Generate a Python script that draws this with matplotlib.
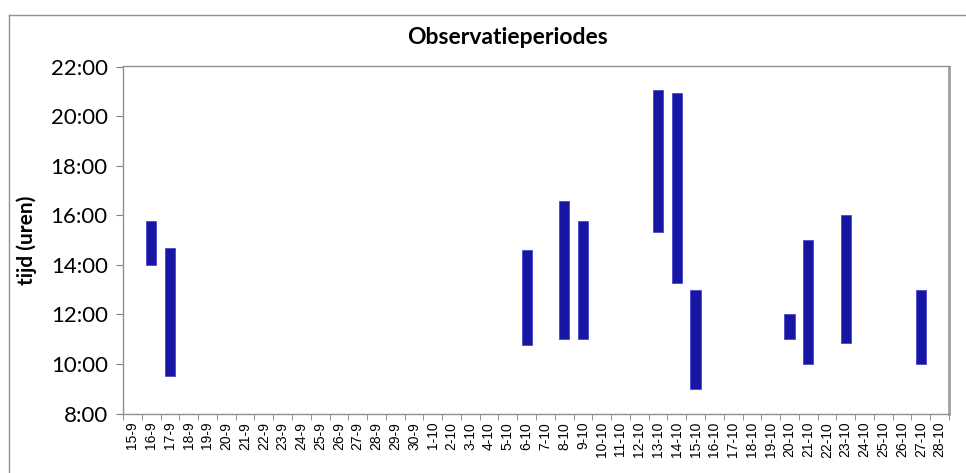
import matplotlib
matplotlib.use("Agg")
import matplotlib.pyplot as plt
from matplotlib.lines import Line2D
from matplotlib.ticker import FixedLocator, FuncFormatter

# categories on the x axis (one per day)
days = ['15-9', '16-9', '17-9', '18-9', '19-9', '20-9', '21-9', '22-9', '23-9',
        '24-9', '25-9', '26-9', '27-9', '28-9', '29-9', '30-9',
        '1-10', '2-10', '3-10', '4-10', '5-10', '6-10', '7-10', '8-10', '9-10',
        '10-10', '11-10', '12-10', '13-10', '14-10', '15-10', '16-10', '17-10',
        '18-10', '19-10', '20-10', '21-10', '22-10', '23-10', '24-10', '25-10',
        '26-10', '27-10', '28-10']

# observation periods (hours of day)
obs_days = ['16-9', '17-9', '6-10', '8-10', '9-10', '13-10', '14-10', '15-10',
            '20-10', '21-10', '23-10', '27-10']
start_h = [14.0, 9.5, 10.75, 11.0, 11.0, 15.33, 13.25, 9.0, 11.0, 10.0, 10.83, 10.0]
end_h = [15.75, 14.67, 14.58, 16.58, 15.75, 21.05, 20.95, 13.0, 12.0, 15.0, 16.0, 13.0]

yticks = [8, 10, 12, 14, 16, 18, 20, 22]

fig = plt.figure(figsize=(9.66, 4.73), dpi=100)
ax = fig.add_axes([123/966, 1-413.5/473, 826/966, 347/473])

xpos = [days.index(d) for d in obs_days]
heights = [e - s for s, e in zip(start_h, end_h)]
ax.bar(xpos, heights, bottom=start_h, width=0.54, color='#1616A2',
       edgecolor='#3a3ad0', linewidth=0.5, zorder=3)

ax.set_xlim(-0.5, len(days) - 0.5)
ax.set_ylim(8, 22)

ax.set_xticks(range(len(days)))
ax.set_xticklabels(days, rotation=90, fontsize=10, family='Liberation Sans')
ax.tick_params(axis='x', which='major', length=0, pad=6)
ax.xaxis.set_minor_locator(FixedLocator([i - 0.5 for i in range(len(days) + 1)]))
ax.tick_params(axis='x', which='minor', length=4, direction='out', color='#808080')

ax.set_yticks(yticks)
ax.yaxis.set_major_formatter(FuncFormatter(lambda v, p: f"{int(v)}:00"))
ax.tick_params(axis='y', length=5, direction='out', color='#808080', pad=6)
for lab in ax.get_yticklabels():
    lab.set_fontsize(16)
    lab.set_family('Lato')

for sp in ax.spines.values():
    sp.set_color('#909090')
    sp.set_linewidth(1.0)
ax.spines['right'].set_linewidth(2.0)
ax.spines['right'].set_color('#a0a0a0')

ax.set_ylabel('tijd (uren)', fontsize=15, fontweight='bold', family='Lato', labelpad=10)
fig.text(507/966, 1-37/473, 'Observatieperiodes', ha='center', va='center',
         fontsize=16.5, fontweight='bold', family='Lato')

# outer chart border
fig.add_artist(Line2D([9/966, 9/966], [0, 1-15/473], color='#909090', lw=1))
fig.add_artist(Line2D([9/966, 1], [1-15/473, 1-15/473], color='#909090', lw=1))

fig.savefig('out.png', dpi=100)
